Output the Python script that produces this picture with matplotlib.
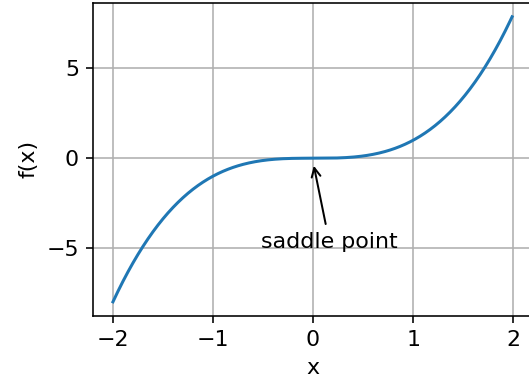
import numpy as np
import matplotlib
matplotlib.use('Agg')
import matplotlib.pyplot as plt

plt.rcParams['font.size'] = 11

# f(x) = x^3 sampled on [-2, 2)
x = np.arange(-2.0, 2.0, 0.01)
f = x ** 3

xticks = [-2, -1, 0, 1, 2]
yticks = [-5, 0, 5]

fig = plt.figure(figsize=(529 / 145, 385 / 145), dpi=145)
ax = fig.add_axes([0.1758, 0.179, 0.83, 0.8145])
ax.plot(x, f, color='C0')
ax.annotate('saddle point', xy=(0, -0.2), xytext=(-0.52, -5.0),
            arrowprops=dict(arrowstyle='->'))
ax.set_xticks(xticks)
ax.set_yticks(yticks)
ax.set_xlabel('x')
ax.set_ylabel('f(x)')
ax.grid(True)

fig.savefig('out.png', dpi=145)
